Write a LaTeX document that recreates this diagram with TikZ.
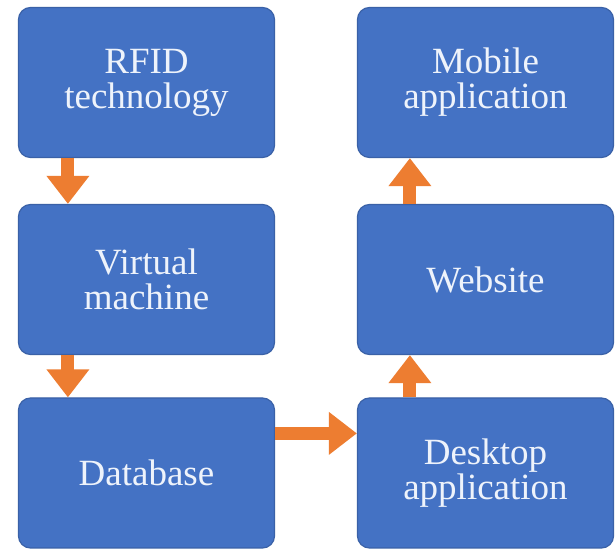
\documentclass[tikz,border=0pt]{standalone}
\usepackage{fontspec}
\setmainfont{Liberation Serif}
\usepackage{xcolor}
\usetikzlibrary{positioning,arrows.meta}
\definecolor{boxblue}{HTML}{4472C4}
\definecolor{arroworange}{HTML}{ED7D31}
\definecolor{boxtext}{HTML}{EEF3FB}

\begin{document}
\begin{tikzpicture}[x=0.5pt,y=-0.5pt,
  block/.style={fill=boxblue,draw=boxblue!85!black,line width=0.6pt,rounded corners=6pt,minimum width=128pt,minimum height=75pt,inner sep=0pt,align=center,text=boxtext,font=\fontsize{18.5}{17.5}\selectfont},
  flow/.style={draw=arroworange,line width=6.5pt,-{Triangle[width=20.5pt,length=14pt]}}]
\useasboundingbox[fill=white] (0,0) rectangle (616,550);
\node[block] (rfid) at (146.5,82.5) {RFID\\technology};
\node[block] (vm) at (146.5,279.5) {Virtual\\machine};
\node[block] (db) at (146.5,473) {Database};
\node[block] (mobile) at (485.5,82.5) {Mobile\\application};
\node[block] (web) at (485.5,279.5) {Website};
\node[block] (desk) at (485.5,473) {Desktop\\application};
\draw[flow] ([xshift=25pt]rfid.south west) -- ([xshift=25pt]vm.north west);
\draw[flow] ([xshift=25pt]vm.south west) -- ([xshift=25pt]db.north west);
\draw[flow] ([yshift=-18pt]db.north east) -- ([yshift=-18pt]desk.north west);
\draw[flow] ([xshift=26.5pt]desk.north west) -- ([xshift=26.5pt]web.south west);
\draw[flow] ([xshift=26.5pt]web.north west) -- ([xshift=26.5pt]mobile.south west);
\end{tikzpicture}
\end{document}
